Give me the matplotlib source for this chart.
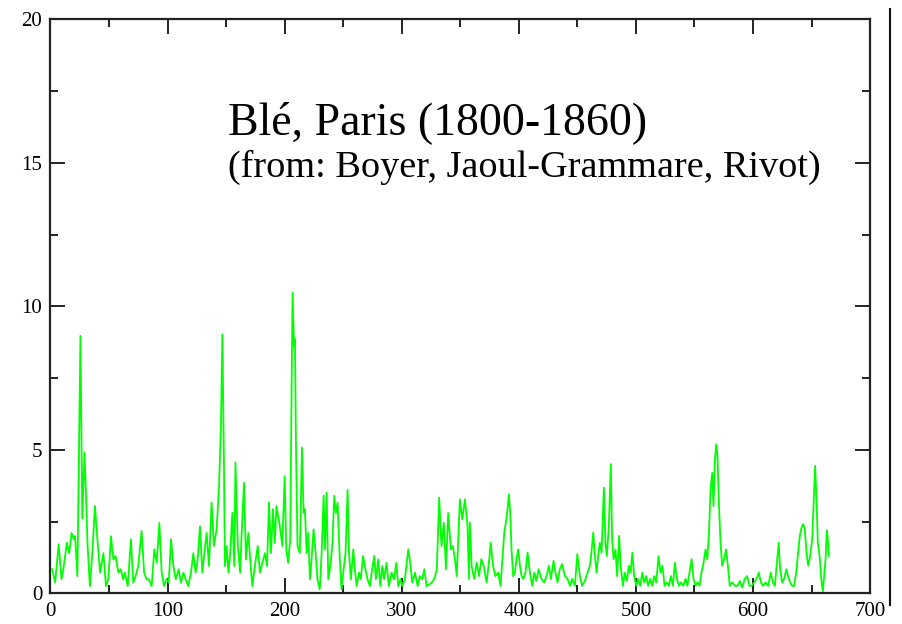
import matplotlib
matplotlib.use("Agg")
import matplotlib.pyplot as plt
from matplotlib.lines import Line2D

plt.rcParams["font.family"] = ["Liberation Serif", "DejaVu Serif"]

# values (x index, price variation)
xVals = [
    1.4, 4, 7, 9.4, 11, 14, 16, 18, 20, 21, 23, 25.6, 27.2, 29, 30, 31.7, 33.7, 35.7, 38, 40.5,
    42.4, 45.2, 47.4, 49.4, 51.7, 53.7, 55.6, 58, 60, 62, 63.5, 66, 68.7, 70.7, 72.7, 75, 77.8, 80, 82, 84,
    86.4, 88.7, 90.7, 93, 95, 97, 99, 101, 103, 105, 107, 109.5, 111.4, 113.6, 115.5, 117.7, 120, 122, 124, 125.7,
    127.7, 129.7, 131.4, 133.4, 135.4, 137.6, 139.6, 141.9, 144, 145.6, 146.8, 148, 149, 150.5, 152, 153.4, 155.3, 157, 158, 160,
    162, 163.3, 165.3, 167, 169, 171, 172.4, 174.6, 177, 178.9, 181, 183.2, 185, 186.6, 188.3, 190, 191.6, 193, 195, 196.7,
    198, 200, 201.4, 203, 204.8, 206, 206.8, 208, 208.8, 209.7, 211, 213, 214.8, 216.2, 217.3, 218.8, 220.2, 221.6, 223, 224.7,
    226.5, 228, 230, 231.6, 233.3, 234.4, 235.8, 237.3, 239, 240.7, 242.4, 243.8, 245.2, 247, 248.6, 250.4, 252, 253.8, 255, 256.6,
    258.6, 260, 261.5, 263.5, 265, 267, 269, 270.8, 272.8, 274.8, 276.5, 278, 280, 281.7, 283.4, 285, 287, 289, 291.4, 293.4,
    295.4, 297, 299, 300.5, 302.7, 305.6, 307.3, 309, 311.3, 313.6, 315.5, 317.5, 319.3, 321.3, 323.2, 325.5, 327.8, 330, 332, 334,
    336, 337.8, 339.7, 342, 343.7, 345.5, 347, 349.7, 351.7, 354, 356.2, 357.4, 358.2, 359.7, 361.9, 364, 366, 368, 370, 372.5,
    374.5, 376, 378, 380, 382.4, 384.4, 386, 387.6, 389, 390.4, 391.5, 392.7, 393.8, 395.2, 396.7, 398, 399.5, 401, 402.4, 403.8,
    405.7, 407.5, 409.5, 411.5, 413.2, 415, 417, 419.4, 421.7, 423.7, 425.7, 427.4, 429.7, 431.4, 433, 435, 437, 439.4, 441.7, 443.7,
    445.6, 447.9, 450, 452.2, 454, 456.4, 458.7, 460.7, 462, 463.6, 465, 466.4, 467.8, 469.2, 470.7, 472.7, 474, 475.2, 476.9, 478.6,
    479.7, 481, 482.6, 484, 485.7, 487, 488.9, 490.6, 492.3, 494, 495.5, 497, 498.6, 500.3, 502, 503.7, 505.4, 507.1, 508.8, 510.5,
    512.2, 513.9, 515.7, 517.4, 519.4, 521, 522.7, 524.5, 526.5, 528.2, 529.9, 531.6, 533.3, 535, 536.8, 538.4, 540.4, 542.4, 544, 545.8,
    547.6, 549.2, 551, 552.6, 554.4, 556, 557.8, 559.5, 561, 562.4, 563.8, 565.2, 566.3, 567.5, 568.6, 569.7, 570.8, 572.3, 573.7, 575.4,
    577, 578.6, 580.2, 582.3, 584.6, 586.8, 588.8, 590.8, 593, 595, 597, 598.8, 601, 603, 605, 606.8, 608.7, 610.7, 613, 615.2,
    617, 618.7, 620.7, 622, 623.2, 624.9, 626.6, 628.6, 630, 631.7, 633.5, 635.2, 636.9, 638.6, 640, 641.5, 642.9, 644.3, 645.7, 647.2,
    648.9, 650.6, 652, 653.1, 654.3, 655.4, 656.9, 658.3, 659.7, 660.8, 662, 663.1, 664, 664.8,
]
yVals = [
    0.84, 0.38, 1.71, 0.49, 0.84, 1.76, 1.4, 2.1, 1.88, 2.0, 0.6, 8.97, 2.6, 4.9, 3.85, 1.65, 0.25, 1.4, 3.04, 1.65,
    0.72, 1.4, 0.25, 0.49, 1.99, 1.18, 1.3, 0.72, 0.84, 0.49, 0.72, 0.25, 1.88, 0.37, 0.6, 0.95, 2.17, 0.72, 0.49, 0.49,
    0.25, 1.53, 1.06, 2.45, 0.72, 0.25, 0.49, 0.37, 1.88, 0.95, 0.49, 0.84, 0.37, 0.72, 0.49, 0.25, 0.72, 1.4, 0.72, 1.18,
    2.33, 0.72, 1.4, 2.1, 0.95, 3.16, 1.65, 2.23, 3.74, 5.83, 9.02, 5.13, 0.95, 1.65, 0.72, 1.3, 2.8, 0.95, 4.55, 1.65,
    0.72, 2.1, 3.85, 1.18, 2.1, 0.95, 0.25, 0.95, 1.65, 0.72, 1.06, 1.4, 0.95, 3.16, 1.4, 2.93, 1.76, 3.04, 2.57, 2.1,
    1.65, 4.08, 1.53, 1.06, 1.88, 7.43, 10.47, 8.6, 8.85, 5.13, 1.65, 1.4, 5.08, 2.8, 2.93, 1.4, 2.1, 0.49, 1.18, 2.23,
    1.4, 0.49, 0.14, 1.4, 3.4, 1.53, 3.5, 0.49, 0.95, 1.65, 3.4, 2.8, 3.16, 1.3, 0.14, 0.84, 1.4, 3.6, 1.4, 0.49,
    1.53, 0.84, 0.25, 0.72, 0.49, 1.3, 0.84, 0.49, 0.25, 0.84, 1.3, 0.49, 1.18, 0.25, 0.95, 0.49, 1.06, 0.25, 0.72, 0.49,
    1.06, 0.25, 0.49, 0.25, 0.49, 1.53, 1.06, 0.37, 0.72, 0.25, 0.6, 0.49, 0.84, 0.25, 0.3, 0.37, 0.49, 0.84, 3.33, 1.65,
    2.45, 0.84, 2.8, 1.53, 1.65, 1.18, 0.6, 3.27, 2.58, 3.27, 2.35, 0.5, 2.47, 0.96, 0.5, 1.07, 0.6, 1.19, 0.96, 0.38,
    1.07, 1.76, 0.96, 0.6, 0.72, 0.26, 1.19, 2.12, 2.47, 2.93, 3.45, 2.81, 1.53, 0.6, 0.72, 1.19, 1.53, 0.96, 0.6, 0.5,
    0.72, 1.42, 0.72, 0.26, 0.72, 0.43, 0.84, 0.5, 0.38, 0.6, 0.96, 0.5, 1.13, 0.72, 0.38, 0.84, 1.02, 0.6, 0.5, 0.26,
    0.5, 0.26, 1.36, 0.6, 0.26, 0.43, 0.72, 0.96, 1.42, 2.12, 1.3, 0.72, 1.3, 1.76, 1.42, 3.68, 1.76, 1.3, 2.35, 4.5,
    1.88, 1.19, 1.53, 0.6, 2.0, 0.96, 0.26, 0.72, 0.43, 0.96, 0.72, 1.42, 0.6, 0.26, 0.5, 0.26, 0.72, 0.38, 0.6, 0.26,
    0.5, 0.26, 0.6, 0.38, 1.3, 0.72, 0.96, 0.26, 0.38, 0.26, 0.6, 0.26, 1.07, 0.5, 0.26, 0.38, 0.26, 0.5, 0.26, 0.72,
    1.19, 0.5, 0.26, 0.38, 0.26, 0.72, 1.07, 1.53, 1.19, 2.12, 3.62, 4.2, 3.04, 4.67, 5.19, 4.79, 3.27, 1.76, 0.96, 1.19,
    1.53, 0.96, 0.26, 0.38, 0.26, 0.26, 0.43, 0.2, 0.5, 0.6, 0.26, 0.26, 0.38, 0.5, 0.72, 0.38, 0.26, 0.38, 0.26, 0.72,
    0.38, 0.26, 1.19, 1.76, 0.84, 0.38, 0.5, 0.84, 0.6, 0.38, 0.26, 0.26, 0.72, 1.42, 2.0, 2.3, 2.41, 2.23, 1.42, 0.96,
    1.3, 1.88, 3.27, 4.44, 3.27, 1.76, 1.3, 0.5, 0.06, 0.6, 1.19, 2.2, 1.88, 1.3,
]

xTicks = [0, 100, 200, 300, 400, 500, 600, 700]
yTicks = [0, 5, 10, 15, 20]
titleLine = "Blé, Paris (1800-1860)"
sourceLine = "(from: Boyer, Jaoul-Grammare, Rivot)"


def plotPrices():
    """
    Draw the wheat price series with the xmgrace-like frame
    """
    fig = plt.figure(figsize=(9.03, 6.24), dpi=100)
    ax = fig.add_axes([0.0559, 0.0492, 0.9076, 0.9199])

    ax.plot(xVals, yVals, color="#00ff00", lw=1.3)

    ax.set_xlim(0, 700)
    ax.set_ylim(0, 20)
    ax.set_xticks(xTicks)
    ax.set_yticks(yTicks)
    ax.set_xticks(range(50, 700, 100), minor=True)
    ax.set_yticks([2.5, 7.5, 12.5, 17.5], minor=True)

    for side in ax.spines.values():
        side.set_linewidth(1.6)
        side.set_color("#222222")
    ax.tick_params(which="both", direction="in", top=True, right=True, width=1.4, color="#222222",
                   labelsize=15, pad=6)
    ax.tick_params(which="major", length=11)
    ax.tick_params(which="minor", length=6)

    fig.text(0.2525, 0.785, titleLine, fontsize=33, va="baseline")
    fig.text(0.2525, 0.716, sourceLine, fontsize=27.5, va="baseline")

    # stray vertical rule at the right of the original image
    fig.add_artist(Line2D([0.9856, 0.9856], [0.03, 0.985], color="#111111", lw=1.5))

    plt.savefig("out.png", dpi=100)


plotPrices()
